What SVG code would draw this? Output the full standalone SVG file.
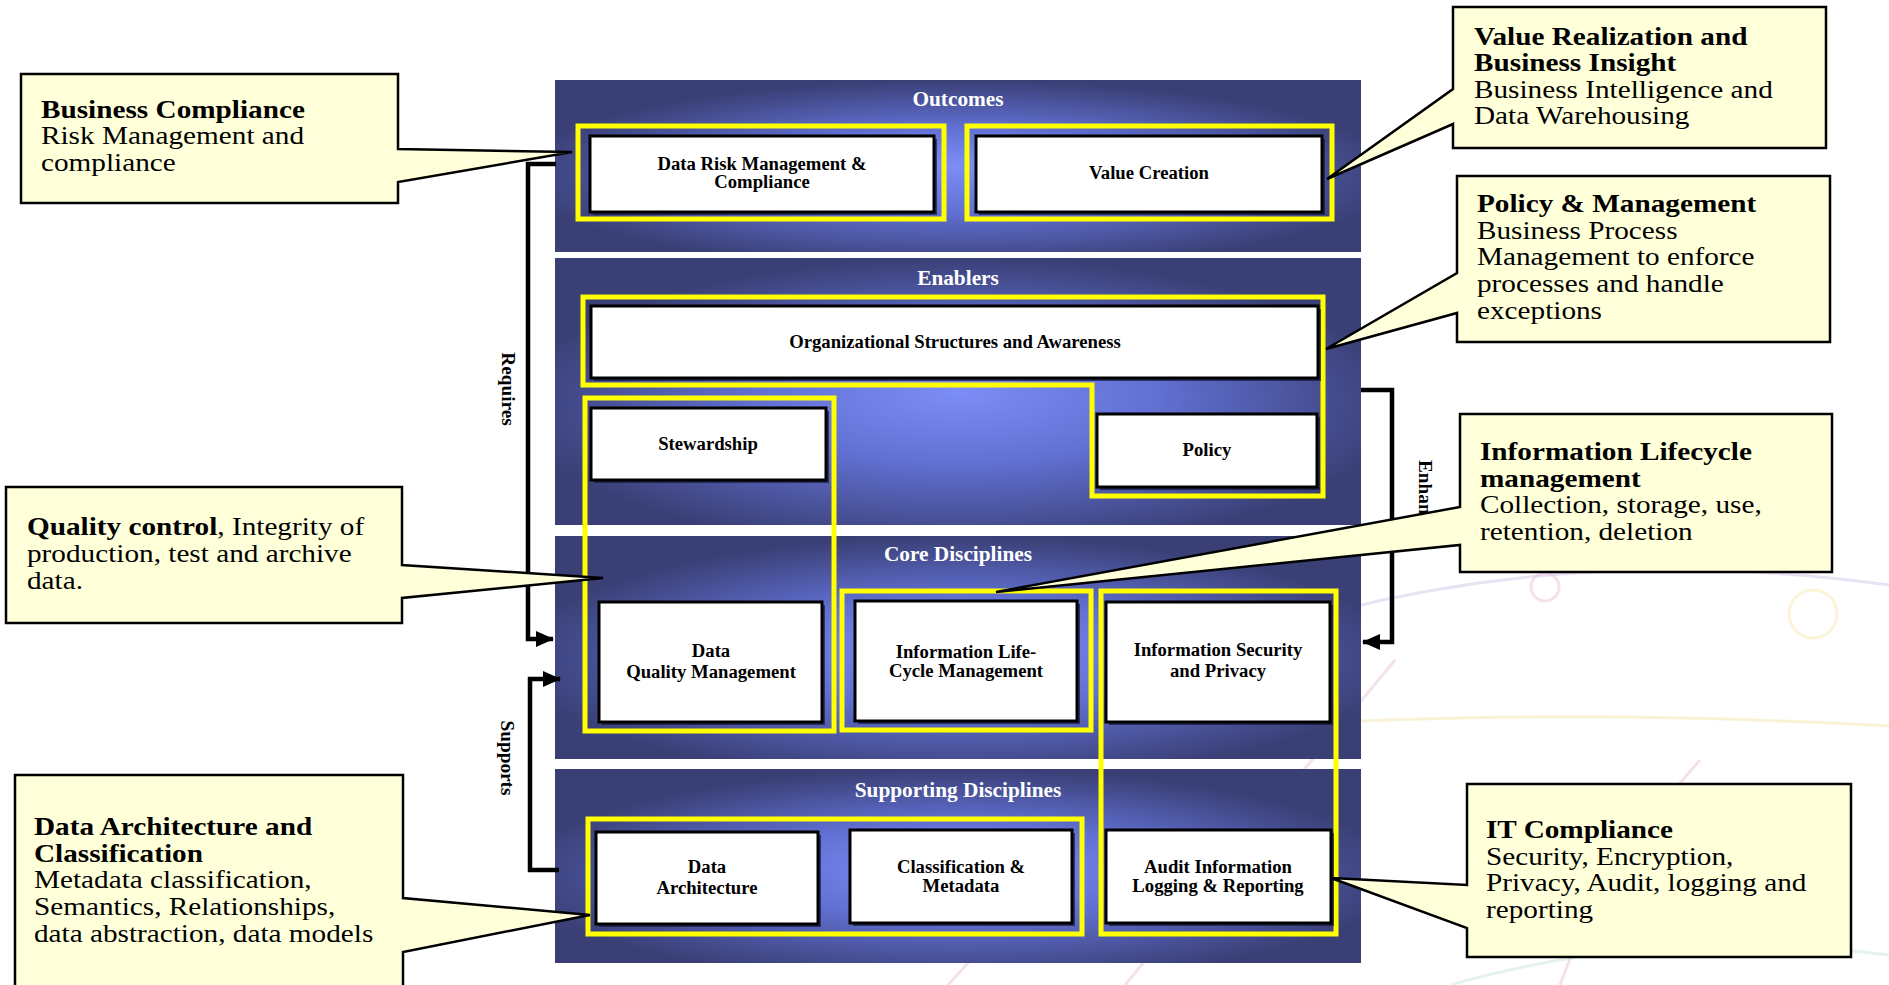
<svg xmlns="http://www.w3.org/2000/svg" width="1889" height="985" viewBox="0 0 1889 985">
<defs>
<radialGradient id="pg" cx="0.5" cy="0.55" r="0.55" fx="0.5" fy="0.5">
<stop offset="0" stop-color="#7c8df6"/>
<stop offset="0.45" stop-color="#6170d2"/>
<stop offset="1" stop-color="#3a3f75"/>
</radialGradient>
<marker id="ah" markerUnits="userSpaceOnUse" markerWidth="18" markerHeight="18" refX="17" refY="8" orient="auto">
<path d="M0,0 L18,8 L0,16 Z" fill="#000"/>
</marker>
</defs>
<style>
.panel{fill:url(#pg)}
.ptitle{font-family:"Liberation Serif","Times New Roman",serif;font-weight:bold;font-size:21.3px;fill:#fff;text-anchor:middle}
.yb{fill:none;stroke:#ffff00;stroke-width:5}
.sh{fill:#15183a;opacity:0.7}
.wb{fill:#fff;stroke:#000;stroke-width:3}
.bt{font-family:"Liberation Serif","Times New Roman",serif;font-weight:bold;font-size:18.7px;fill:#000;text-anchor:middle}
.co{fill:#ffffd9;stroke:#000;stroke-width:2.5;stroke-linejoin:miter}
.ct{font-family:"Liberation Serif","Times New Roman",serif;font-size:26px;fill:#000}
.ct .b{font-weight:bold}
.cn{fill:none;stroke:#000;stroke-width:4.5}
.cl{font-family:"Liberation Serif","Times New Roman",serif;font-weight:bold;font-size:19.3px;fill:#000;text-anchor:middle}
.wm{fill:none;stroke-width:3;opacity:0.45}
</style>
<rect width="1889" height="985" fill="#fff"/>

<g id="watermark">
<path class="wm" stroke="#cdbfe6" d="M1340,610 Q1600,545 1889,585"/>
<path class="wm" stroke="#f1e4a2" d="M1340,722 Q1600,710 1889,726"/>
<path class="wm" stroke="#e8bcd9" d="M1125,985 L1395,660"/>
<path class="wm" stroke="#e8bcd9" d="M948,985 L975,955"/>
<path class="wm" stroke="#e8bcd9" d="M1560,985 Q1600,870 1700,760"/>
<path class="wm" stroke="#c6e6d2" d="M1450,985 Q1660,925 1889,955"/>
<circle class="wm" stroke="#e9bcd8" stroke-width="6" cx="1545" cy="587" r="14"/>
<circle class="wm" stroke="#f6e7a8" stroke-width="9" cx="1813" cy="614" r="24"/>
</g>

<g id="panels">
<g id="outcomes"><rect class="panel" x="555" y="80" width="806" height="172"/><text class="ptitle" x="958" y="106">Outcomes</text></g>
<g id="enablers"><rect class="panel" x="555" y="258" width="806" height="267"/><text class="ptitle" x="958" y="285">Enablers</text></g>
<g id="core"><rect class="panel" x="555" y="536" width="806" height="223"/><text class="ptitle" x="958" y="561">Core Disciplines</text></g>
<g id="supporting"><rect class="panel" x="555" y="769" width="806" height="194"/><text class="ptitle" x="958" y="797">Supporting Disciplines</text></g>
</g>

<g id="connectors">
<path class="cn" d="M556,164 H528 V639 H553" marker-end="url(#ah)"/>
<path class="cn" d="M559,870 H530 V679 H560" marker-end="url(#ah)"/>
<path class="cn" d="M1361,390 H1392 V642 H1363" marker-end="url(#ah)"/>
<text class="cl" transform="translate(508,389) rotate(90)" dominant-baseline="central">Requires</text>
<text class="cl" transform="translate(507,758) rotate(90)" dominant-baseline="central">Supports</text>
<text class="cl" transform="translate(1425,460) rotate(90)" dominant-baseline="central" style="text-anchor:start">Enhances</text>
</g>

<g id="yellow-groups">
<rect class="yb" x="578" y="126" width="366" height="93"/>
<rect class="yb" x="967" y="126" width="365" height="93"/>
<path class="yb" d="M583,297 H1323 V496 H1092 V385 H583 Z"/>
<rect class="yb" x="585" y="398" width="249" height="333"/>
<rect class="yb" x="842" y="591" width="249" height="139"/>
<rect class="yb" x="1101" y="591" width="235" height="343"/>
<rect class="yb" x="588" y="819" width="494" height="115"/>
</g>

<g id="node-drm"><rect class="sh" x="593" y="139" width="344" height="76"/><rect class="wb" x="590" y="136" width="344" height="76"/><text class="bt" x="762" y="170">Data Risk Management &amp;</text><text class="bt" x="762" y="188">Compliance</text></g>
<g id="node-value"><rect class="sh" x="979" y="139" width="346" height="76"/><rect class="wb" x="976" y="136" width="346" height="76"/><text class="bt" x="1149" y="179">Value Creation</text></g>
<g id="node-org"><rect class="sh" x="594" y="309" width="727" height="72"/><rect class="wb" x="591" y="306" width="727" height="72"/><text class="bt" x="955" y="348">Organizational Structures and Awareness</text></g>
<g id="node-stewardship"><rect class="sh" x="594" y="411" width="235" height="72"/><rect class="wb" x="591" y="408" width="235" height="72"/><text class="bt" x="708" y="450">Stewardship</text></g>
<g id="node-policy"><rect class="sh" x="1100" y="417" width="220" height="73"/><rect class="wb" x="1097" y="414" width="220" height="73"/><text class="bt" x="1207" y="456">Policy</text></g>
<g id="node-dqm"><rect class="sh" x="602" y="605" width="223" height="120"/><rect class="wb" x="599" y="602" width="223" height="120"/><text class="bt" x="711" y="657">Data</text><text class="bt" x="711" y="678">Quality Management</text></g>
<g id="node-ilm"><rect class="sh" x="858" y="604" width="222" height="120"/><rect class="wb" x="855" y="601" width="222" height="120"/><text class="bt" x="966" y="658">Information Life-</text><text class="bt" x="966" y="677">Cycle Management</text></g>
<g id="node-isp"><rect class="sh" x="1109" y="605" width="224" height="120"/><rect class="wb" x="1106" y="602" width="224" height="120"/><text class="bt" x="1218" y="656">Information Security</text><text class="bt" x="1218" y="677">and Privacy</text></g>
<g id="node-da"><rect class="sh" x="599" y="835" width="222" height="92"/><rect class="wb" x="596" y="832" width="222" height="92"/><text class="bt" x="707" y="873">Data</text><text class="bt" x="707" y="894">Architecture</text></g>
<g id="node-cm"><rect class="sh" x="853" y="833" width="222" height="93"/><rect class="wb" x="850" y="830" width="222" height="93"/><text class="bt" x="961" y="873">Classification &amp;</text><text class="bt" x="961" y="892">Metadata</text></g>
<g id="node-audit"><rect class="sh" x="1109" y="833" width="225" height="93"/><rect class="wb" x="1106" y="830" width="225" height="93"/><text class="bt" x="1218" y="873">Audit Information</text><text class="bt" x="1218" y="892">Logging &amp; Reporting</text></g>

<g id="callout-business-compliance">
<path class="co" d="M21,74 H398 V149 L572,152 L398,182 V203 H21 Z"/>
<text class="ct" transform="matrix(1.125,0,0,1,-5.125,0)"><tspan class="b" x="41" y="118">Business Compliance</tspan><tspan x="41" y="144.5">Risk Management and</tspan><tspan x="41" y="171">compliance</tspan></text>
</g>
<g id="callout-value-realization">
<path class="co" d="M1453,7 H1826 V148 H1453 V124 L1327,179 L1453,89 Z"/>
<text class="ct" transform="matrix(1.125,0,0,1,-184.25,0)"><tspan class="b" x="1474" y="45">Value Realization and</tspan><tspan class="b" x="1474" y="71.5">Business Insight</tspan><tspan x="1474" y="98">Business Intelligence and</tspan><tspan x="1474" y="124.5">Data Warehousing</tspan></text>
</g>
<g id="callout-policy-management">
<path class="co" d="M1457,176 H1830 V342 H1457 V313 L1326,349 L1457,273 Z"/>
<text class="ct" transform="matrix(1.125,0,0,1,-184.625,0)"><tspan class="b" x="1477" y="212">Policy &amp; Management</tspan><tspan x="1477" y="239">Business Process</tspan><tspan x="1477" y="265.5">Management to enforce</tspan><tspan x="1477" y="292">processes and handle</tspan><tspan x="1477" y="319">exceptions</tspan></text>
</g>
<g id="callout-info-lifecycle">
<path class="co" d="M1460,414 H1832 V572 H1460 V545 L996,592 L1460,507 Z"/>
<text class="ct" transform="matrix(1.125,0,0,1,-185,0)"><tspan class="b" x="1480" y="460">Information Lifecycle</tspan><tspan class="b" x="1480" y="487">management</tspan><tspan x="1480" y="513">Collection, storage, use,</tspan><tspan x="1480" y="540">retention, deletion</tspan></text>
</g>
<g id="callout-it-compliance">
<path class="co" d="M1467,784 H1851 V957 H1467 V928 L1331,878 L1467,885 Z"/>
<text class="ct" transform="matrix(1.125,0,0,1,-185.75,0)"><tspan class="b" x="1486" y="838">IT Compliance</tspan><tspan x="1486" y="865">Security, Encryption,</tspan><tspan x="1486" y="891">Privacy, Audit, logging and</tspan><tspan x="1486" y="918">reporting</tspan></text>
</g>
<g id="callout-quality-control">
<path class="co" d="M6,487 H402 V565 L603,578 L402,598 V623 H6 Z"/>
<text class="ct" transform="matrix(1.125,0,0,1,-3.375,0)"><tspan class="b" x="27" y="535">Quality control</tspan><tspan>, Integrity of</tspan><tspan x="27" y="562">production, test and archive</tspan><tspan x="27" y="589">data.</tspan></text>
</g>
<g id="callout-data-architecture">
<path class="co" d="M15,995 V775 H403 V898 L590,915 L403,952 V995"/>
<text class="ct" transform="matrix(1.125,0,0,1,-4.25,0)"><tspan class="b" x="34" y="835">Data Architecture and</tspan><tspan class="b" x="34" y="862">Classification</tspan><tspan x="34" y="888">Metadata classification,</tspan><tspan x="34" y="915">Semantics, Relationships,</tspan><tspan x="34" y="942">data abstraction, data models</tspan></text>
</g>
</svg>
